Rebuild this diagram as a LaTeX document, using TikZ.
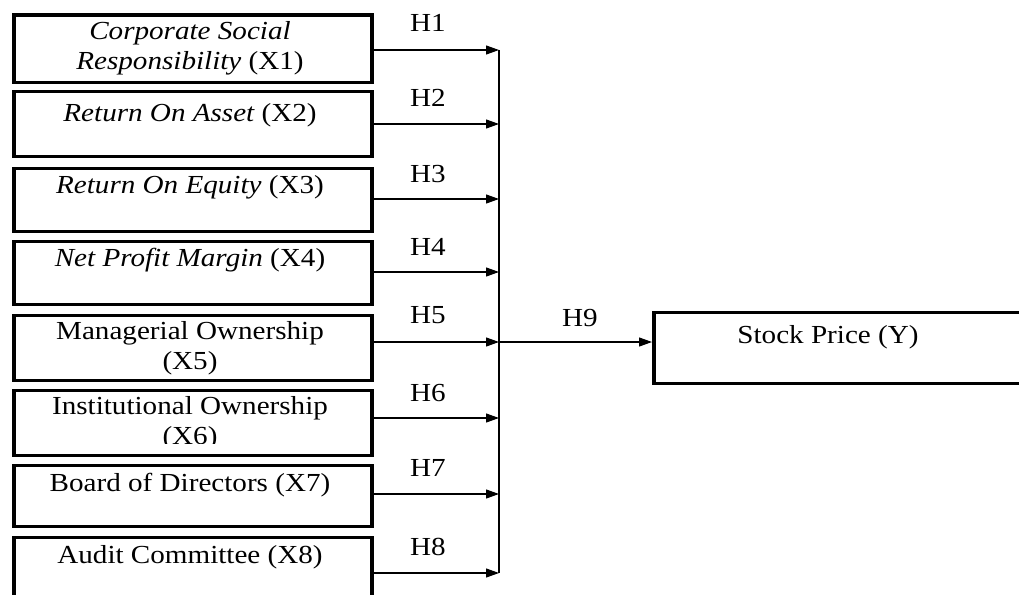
\documentclass[tikz,border=0pt]{standalone}
\usepackage{fontspec}
\setmainfont{Liberation Serif}[FakeStretch=1.12]
\usetikzlibrary{arrows.meta}
\tikzset{
  vbox/.style={draw, line width=3.5pt, inner sep=0pt, anchor=north west, minimum width=358pt},
  txt/.style={font=\fontsize{26}{30}\selectfont, align=center, inner sep=0pt},
  hlab/.style={font=\fontsize{26}{30}\selectfont, inner sep=0pt},
  arr/.style={line width=1.2pt, -{Triangle[length=13pt,width=9pt]}},
  bus/.style={line width=1.2pt}
}
\begin{document}
\begin{tikzpicture}[x=1pt,y=-1pt]
\useasboundingbox (0,0) rectangle (1019,594);
\clip (0,0) rectangle (1019,594);
% boxes
\node[vbox, minimum height=67pt] (b1) at (12,13.5) {};
\node[vbox, minimum height=65pt] (b2) at (12,89.5) {};
\node[vbox, minimum height=63pt] (b3) at (12,166.5) {};
\node[vbox, minimum height=63pt] (b4) at (12,239.5) {};
\node[vbox, minimum height=65pt] (b5) at (12,313.5) {};
\node[vbox, minimum height=65pt] (b6) at (12,388.5) {};
\node[vbox, minimum height=61pt] (b7) at (12,463.5) {};
\node[vbox, minimum height=90pt] (b8) at (12,535.5) {};
\node[draw, line width=3.5pt, inner sep=0pt, anchor=north west, minimum width=420pt, minimum height=71pt] (y) at (652,310.5) {};
% texts
\node[txt] (t1) at (190,48) {\itshape Corporate Social\\ \itshape Responsibility\upshape{} (X1)};
\node[txt] (t2) at (190,115) {\itshape Return On Asset\upshape{} (X2)};
\node[txt] (t3) at (190,187) {\itshape Return On Equity\upshape{} (X3)};
\node[txt] (t4) at (190,260) {\itshape Net Profit Margin\upshape{} (X4)};
\node[txt] (t5) at (190,348) {Managerial Ownership\\(X5)};
\begin{scope}
\clip (14,390) rectangle (366,443);
\node[txt] (t6) at (190,423) {Institutional Ownership\\(X6)};
\end{scope}
\node[txt] (t7) at (190,485) {Board of Directors (X7)};
\node[txt] (t8) at (190,557) {Audit Committee (X8)};
\node[txt] (ty) at (828,337) {Stock Price (Y)};
% junctions
\coordinate (j1) at (499,50);
\coordinate (j2) at (499,124);
\coordinate (j3) at (499,199);
\coordinate (j4) at (499,272);
\coordinate (j5) at (499,342);
\coordinate (j6) at (499,418);
\coordinate (j7) at (499,494);
\coordinate (j8) at (499,573);
\draw[bus] (j1) -- (j8);
\foreach \i in {1,...,8} {
  \draw[arr] (b\i.east |- j\i) -- (j\i);
}
\draw[arr] (j5) -- (y.west |- j5);
% labels
\node[hlab] (h1) at (428,23) {H1};
\node[hlab] (h2) at (428,98) {H2};
\node[hlab] (h3) at (428,174) {H3};
\node[hlab] (h4) at (428,247) {H4};
\node[hlab] (h5) at (428,315) {H5};
\node[hlab] (h6) at (428,393) {H6};
\node[hlab] (h7) at (428,468) {H7};
\node[hlab] (h8) at (428,547) {H8};
\node[hlab] (h9) at (580,318) {H9};
\end{tikzpicture}
\end{document}
